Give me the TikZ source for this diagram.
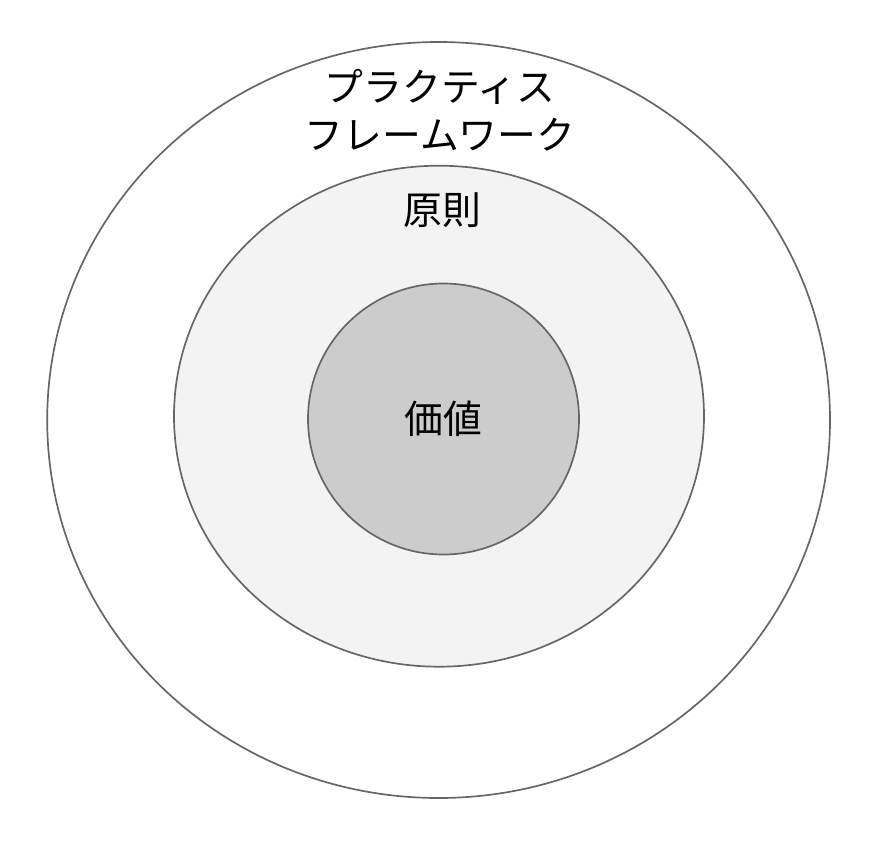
\documentclass[tikz,border=0pt]{standalone}
\usepackage{fontspec}
\setmainfont{Noto Sans CJK JP}
\definecolor{ringline}{HTML}{666666}
\definecolor{ringmid}{HTML}{F3F3F3}
\definecolor{ringcore}{HTML}{CCCCCC}
\begin{document}
\begin{tikzpicture}[scale=0.25]
\tikzstyle{every node}+=[inner sep=0pt, font=\fontsize{27.6}{34.2}\selectfont, align=center]
\tikzstyle{ring}=[draw=ringline, line width=1.2pt]
\useasboundingbox (0,0) rectangle (89.4,-85.8);
\fill [white] (0,0) rectangle (89.4,-85.8);
\draw [ring, fill=white] (43.86,-42.0) ellipse (39.14 and 37.8);
\draw [ring, fill=ringmid] (43.9,-41.62) ellipse (26.5 and 25.05);
\draw [ring, fill=ringcore] (44.35,-41.9) circle (13.55);
\node (practice) at (44.0,-11.0) {プラクティス\\フレームワーク};
\node (principle) at (44.25,-21.0) {原則};
\node (value) at (44.3,-41.9) {価値};
\end{tikzpicture}
\end{document}
